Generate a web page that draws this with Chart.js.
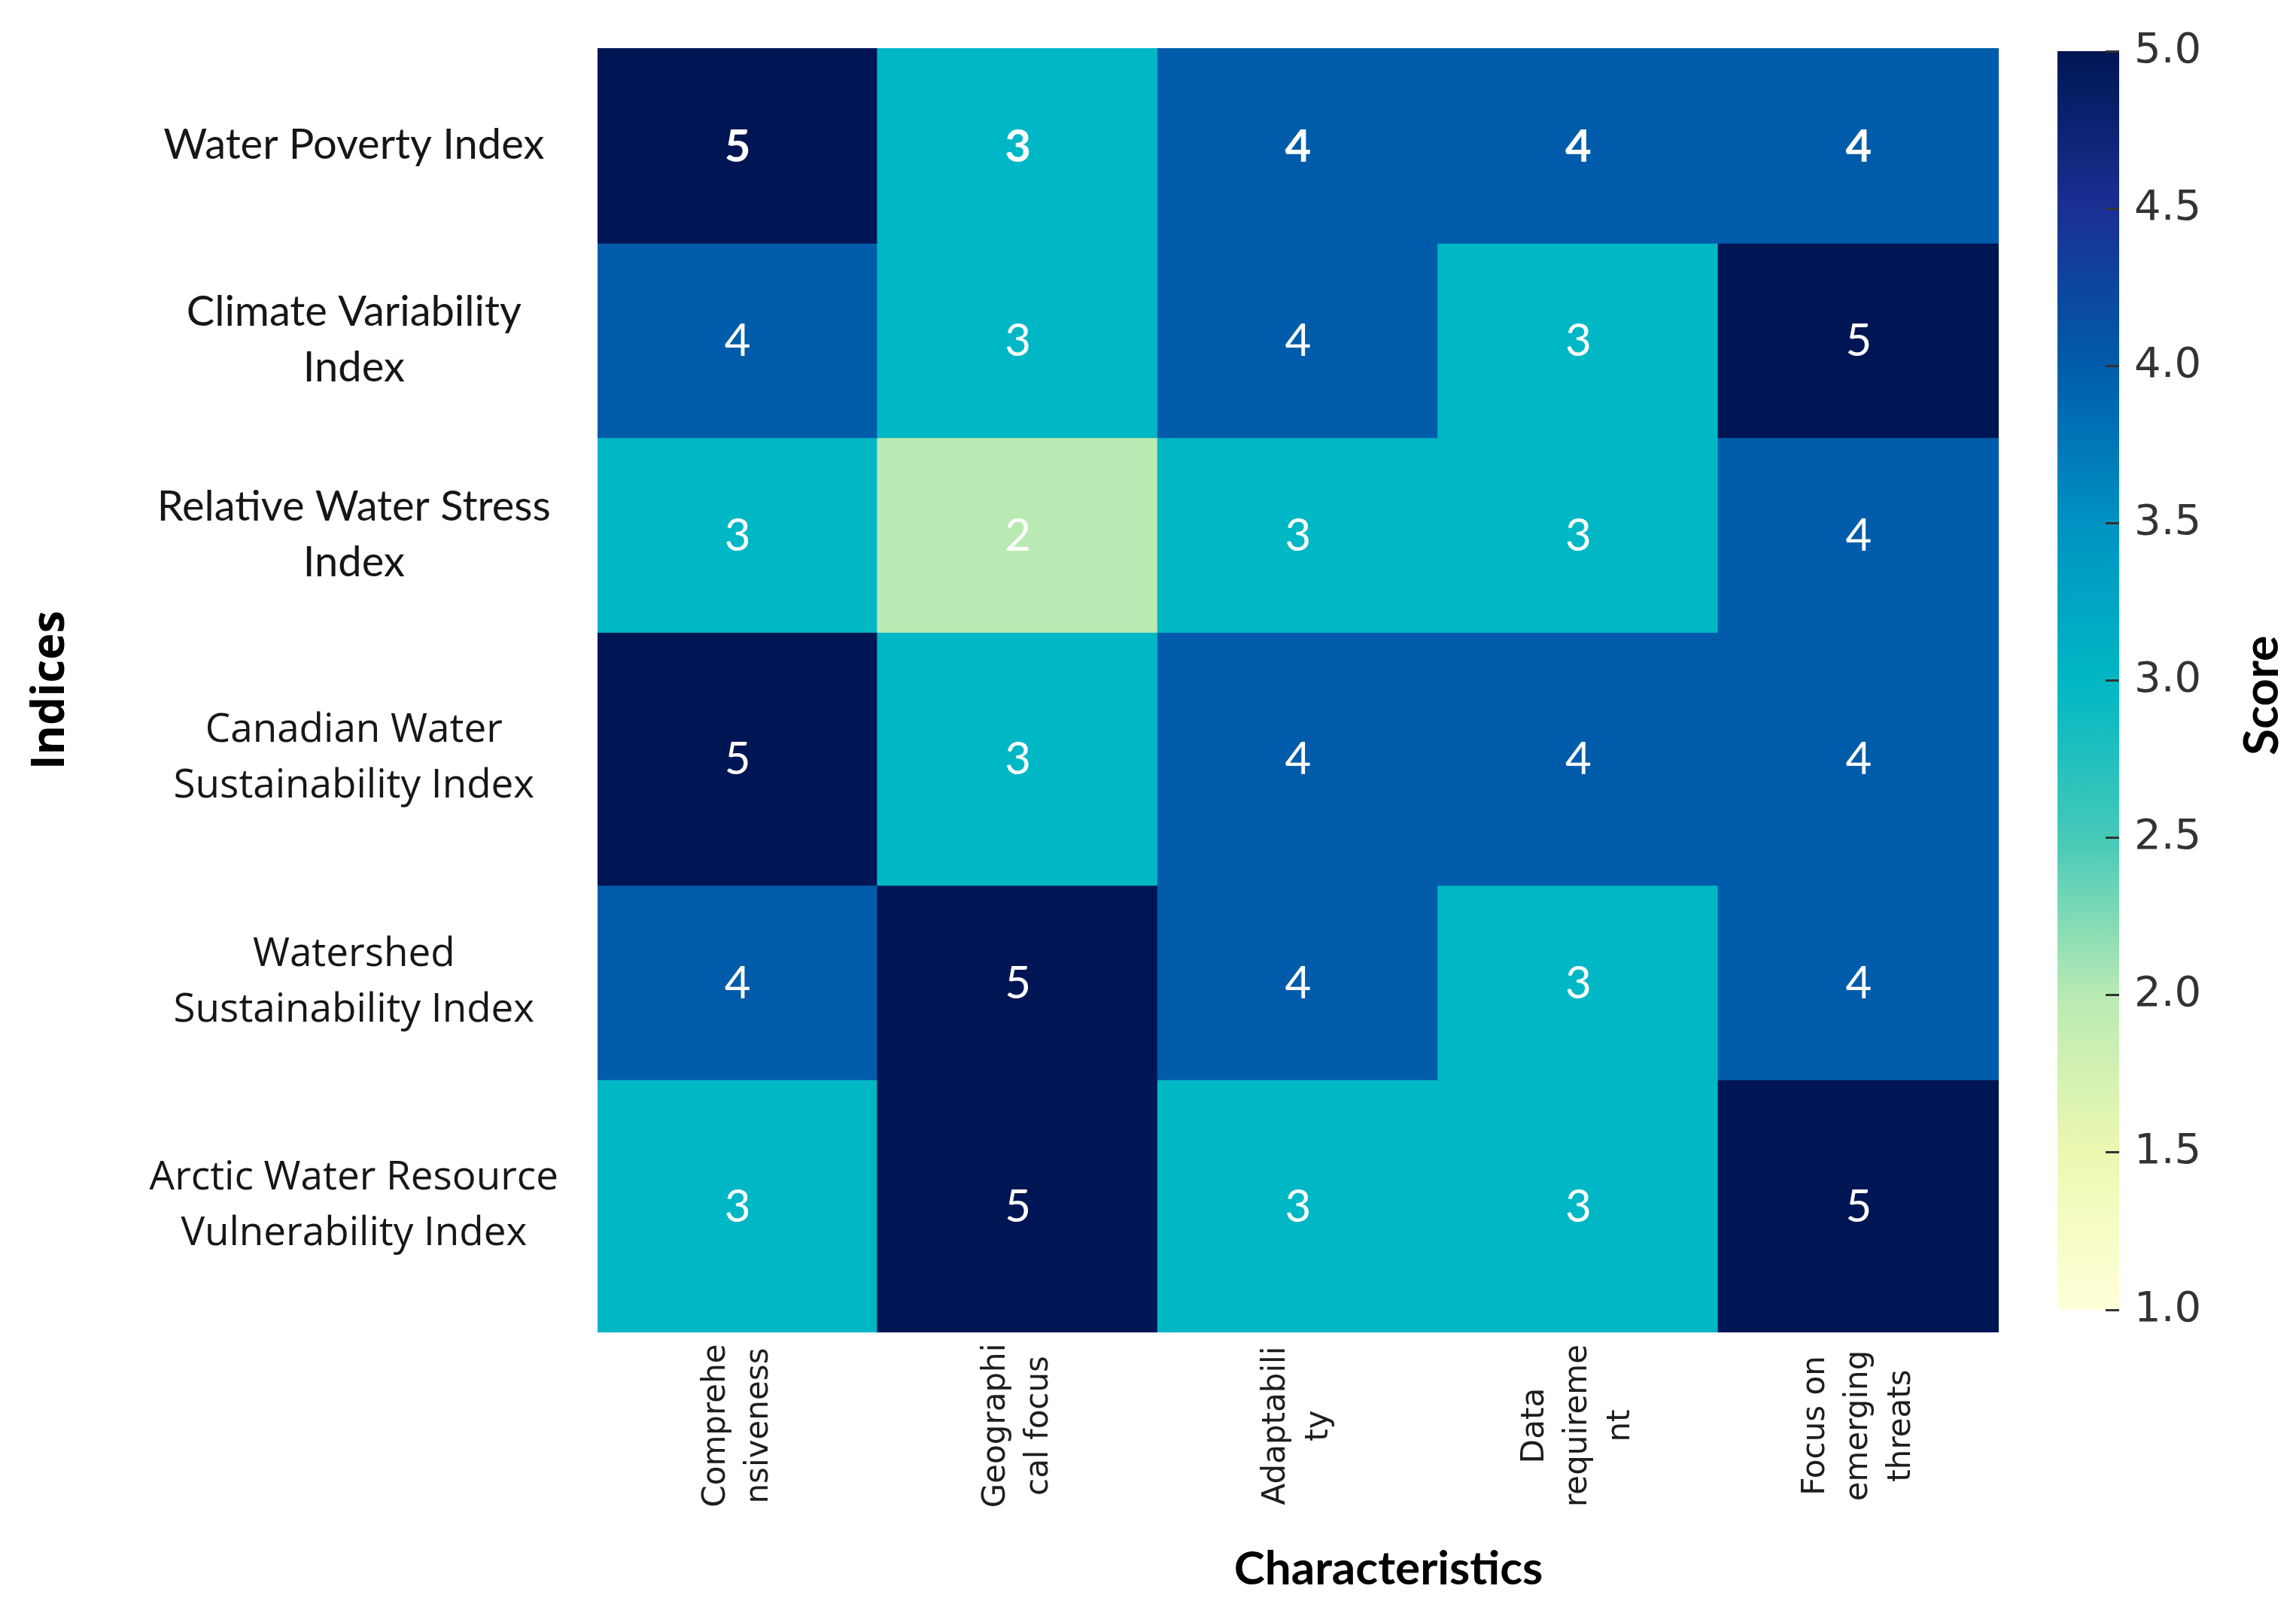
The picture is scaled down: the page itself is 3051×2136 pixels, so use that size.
<!DOCTYPE html>
<html>
<head>
<meta charset="utf-8">
<script src="https://cdn.jsdelivr.net/npm/chart.js@4.4.1/dist/chart.umd.min.js"></script>
<style>
  html, body { margin: 0; padding: 0; background: #ffffff; }
  #wrap { position: relative; width: 3051px; height: 2136px; }
  #main { position: absolute; left: 0; top: 0; width: 3051px; height: 2136px; }
  #cbar { position: absolute; left: 2600px; top: 0; width: 451px; height: 2136px; }
</style>
</head>
<body>
<div id="wrap">
  <div id="main"><canvas id="heat"></canvas></div>
  <div id="cbar"><canvas id="cb"></canvas></div>
</div>
<script>
// ---------------- DATA ----------------
const CHARACTERISTICS = [
  ["Comprehe", "nsiveness"],
  ["Geographi", "cal focus"],
  ["Adaptabili", "ty"],
  ["Data", "requireme", "nt"],
  ["Focus on", "emerging", "threats"]
];
const INDICES = [
  ["Water Poverty Index"],
  ["Climate Variability", "Index"],
  ["Relative Water Stress", "Index"],
  ["Canadian Water", "Sustainability Index"],
  ["Watershed", "Sustainability Index"],
  ["Arctic Water Resource", "Vulnerability Index"]
];
const WATER_POVERTY        = [5, 3, 4, 4, 4];
const CLIMATE_VARIABILITY  = [4, 3, 4, 3, 5];
const RELATIVE_WATER_STRESS= [3, 2, 3, 3, 4];
const CANADIAN_WATER       = [5, 3, 4, 4, 4];
const WATERSHED            = [4, 5, 4, 3, 4];
const ARCTIC_WATER         = [3, 5, 3, 3, 5];
const SCORES = [WATER_POVERTY, CLIMATE_VARIABILITY, RELATIVE_WATER_STRESS, CANADIAN_WATER, WATERSHED, ARCTIC_WATER];
const SCORE_MIN = 1, SCORE_MAX = 5;
const COLORBAR_TICKS = [1.0, 1.5, 2.0, 2.5, 3.0, 3.5, 4.0, 4.5, 5.0];
const X_TITLE = "Characteristics";
const Y_TITLE = "Indices";
const CB_TITLE = "Score";

// ---------------- LAYOUT / STYLE ----------------
const ROW_HEIGHTS = [1, 1, 1, 1.3, 1, 1.3];   // relative row heights as in the figure
const CMAP = [ // YlGnBu-like
  [0.000, "#ffffd9"], [0.125, "#edf8b1"], [0.250, "#b9eab3"], [0.375, "#45c9b8"],
  [0.500, "#00b7c5"], [0.625, "#0092c2"], [0.750, "#005caa"], [0.875, "#1a2f93"],
  [1.000, "#001654"]
];
function hex2rgb(h){ return [parseInt(h.substr(1,2),16), parseInt(h.substr(3,2),16), parseInt(h.substr(5,2),16)]; }
function cmap(v){
  let t = (v - SCORE_MIN) / (SCORE_MAX - SCORE_MIN);
  t = Math.max(0, Math.min(1, t));
  for (let i = 0; i < CMAP.length - 1; i++) {
    const [t0, c0] = CMAP[i], [t1, c1] = CMAP[i+1];
    if (t >= t0 && t <= t1) {
      const f = (t - t0) / (t1 - t0), a = hex2rgb(c0), b = hex2rgb(c1);
      return `rgb(${a.map((x, k) => Math.round(x + (b[k] - x) * f)).join(",")})`;
    }
  }
  return CMAP[CMAP.length-1][1];
}

const rowStarts = [];
{ let acc = 0; ROW_HEIGHTS.forEach(h => { rowStarts.push(acc); acc += h; }); }
const TOTAL = ROW_HEIGHTS.reduce((a, b) => a + b, 0);
const rowCenters = rowStarts.map((s, i) => s + ROW_HEIGHTS[i] / 2);

const datasets = SCORES.map((row, i) => ({
  label: INDICES[i].join(" "),
  data: row.map(() => [rowStarts[i], rowStarts[i] + ROW_HEIGHTS[i]]),
  backgroundColor: row.map(v => cmap(v)),
  borderWidth: 0,
  inflateAmount: 1,
  borderSkipped: false,
  grouped: false,
  barPercentage: 1.0,
  categoryPercentage: 1.0
}));

const cellLabels = {
  id: "cellLabels",
  afterDatasetsDraw(chart) {
    const ctx = chart.ctx;
    ctx.save();
    ctx.textAlign = "center";
    ctx.textBaseline = "middle";
    ctx.fillStyle = "#ffffff";
    SCORES.forEach((row, i) => {
      const meta = chart.getDatasetMeta(i);
      ctx.font = (i === 0 ? "bold " : "") + "60px Lato";
      meta.data.forEach((el, j) => {
        ctx.fillText(String(row[j]), el.x, (el.y + el.base) / 2 + 2);
      });
    });
    ctx.restore();
  }
};

const xLabels = {
  id: "xLabels",
  afterDraw(chart) {
    const ctx = chart.ctx, xs = chart.scales.x, area = chart.chartArea;
    ctx.save();
    ctx.fillStyle = "#1e1e1e";
    ctx.font = "42px 'DejaVu Sans'";
    ctx.textAlign = "center";
    ctx.textBaseline = "middle";
    const lh = 57;
    CHARACTERISTICS.forEach((lines, i) => {
      const x = xs.getPixelForValue(i);
      ctx.save();
      ctx.translate(x, area.bottom + 124);
      ctx.rotate(-Math.PI / 2);
      lines.forEach((ln, k) => ctx.fillText(ln, 0, (k - (lines.length - 1) / 2) * lh));
      ctx.restore();
    });
    // axis title
    ctx.fillStyle = "#000000";
    ctx.font = "bold 62px Lato";
    ctx.textBaseline = "middle";
    ctx.fillText(X_TITLE, (area.left + area.right) / 2 + 120, area.bottom + 315);
    ctx.restore();
  }
};

new Chart(document.getElementById("heat"), {
  type: "bar",
  data: { labels: CHARACTERISTICS.map(l => l.join("")), datasets },
  options: {
    responsive: true,
    maintainAspectRatio: false,
    animation: false,
    layout: { padding: { left: 0, top: 64, right: 395, bottom: 365 } },
    plugins: { legend: { display: false }, tooltip: { enabled: false } },
    scales: {
      x: { type: "category", display: false, offset: true, grid: { display: false } },
      y: {
        type: "linear", reverse: true, min: 0, max: TOTAL,
        grid: { display: false, drawTicks: false },
        border: { display: false },
        afterBuildTicks(scale) { scale.ticks = rowCenters.map(v => ({ value: v })); },
        afterFit(scale) { scale.width = 794; scale.paddingTop = 0; scale.paddingBottom = 0; },
        ticks: {
          autoSkip: false,
          crossAlign: "center",
          padding: 52,
          color: "#161616",
          callback: (v, i) => INDICES[i],
          font: (c) => (c.index < 3
            ? { family: "Lato", size: 56, lineHeight: "74px" }
            : { family: "'Open Sans'", size: 53, lineHeight: "74px" })
        },
        title: {
          display: true, text: Y_TITLE, color: "#000000",
          font: { family: "'Open Sans'", size: 60, weight: "bold" },
          padding: { top: 32, bottom: 0 }
        }
      }
    }
  },
  plugins: [cellLabels, xLabels]
});

// ---------------- COLORBAR ----------------
const cbTitle = {
  id: "cbTitle",
  afterDraw(chart) {
    const ctx = chart.ctx, a = chart.chartArea;
    ctx.save();
    ctx.fillStyle = "#000000";
    ctx.font = "bold 64px Lato";
    ctx.textAlign = "center";
    ctx.textBaseline = "middle";
    ctx.translate(406, (a.top + a.bottom) / 2 + 20);
    ctx.rotate(-Math.PI / 2);
    ctx.fillText(CB_TITLE, 0, 0);
    ctx.restore();
  }
};

new Chart(document.getElementById("cb"), {
  type: "bar",
  data: {
    labels: [CB_TITLE],
    datasets: [{
      data: [[SCORE_MIN, SCORE_MAX]],
      borderWidth: 0,
      barPercentage: 1.0,
      categoryPercentage: 1.0,
      backgroundColor: (c) => {
        const ch = c.chart, ys = ch.scales.y;
        if (!ch.chartArea || !ys) return CMAP[4][1];
        const y0 = ys.getPixelForValue(SCORE_MIN), y1 = ys.getPixelForValue(SCORE_MAX);
        const g = ch.ctx.createLinearGradient(0, y0, 0, y1);
        CMAP.forEach(([t, col]) => g.addColorStop(t, col));
        return g;
      }
    }]
  },
  options: {
    responsive: true,
    maintainAspectRatio: false,
    animation: false,
    layout: { padding: { left: 134, top: 68, right: 0, bottom: 395 } },
    plugins: { legend: { display: false }, tooltip: { enabled: false } },
    scales: {
      x: { display: false, offset: true },
      y: {
        position: "right", min: SCORE_MIN, max: SCORE_MAX,
        afterBuildTicks(scale) { scale.ticks = COLORBAR_TICKS.map(v => ({ value: v })); },
        afterFit(scale) { scale.width = 235; scale.paddingTop = 0; scale.paddingBottom = 0; },
        border: { display: false },
        grid: { display: true, z: 1, drawOnChartArea: false, drawTicks: true, tickLength: -18, tickWidth: 3, tickColor: "#333333" },
        ticks: {
          padding: 38,
          color: "#333333",
          font: { family: "'DejaVu Sans'", size: 56 },
          callback: (v) => Number(v).toFixed(1)
        }
      }
    }
  },
  plugins: [cbTitle]
});
</script>
</body>
</html>
